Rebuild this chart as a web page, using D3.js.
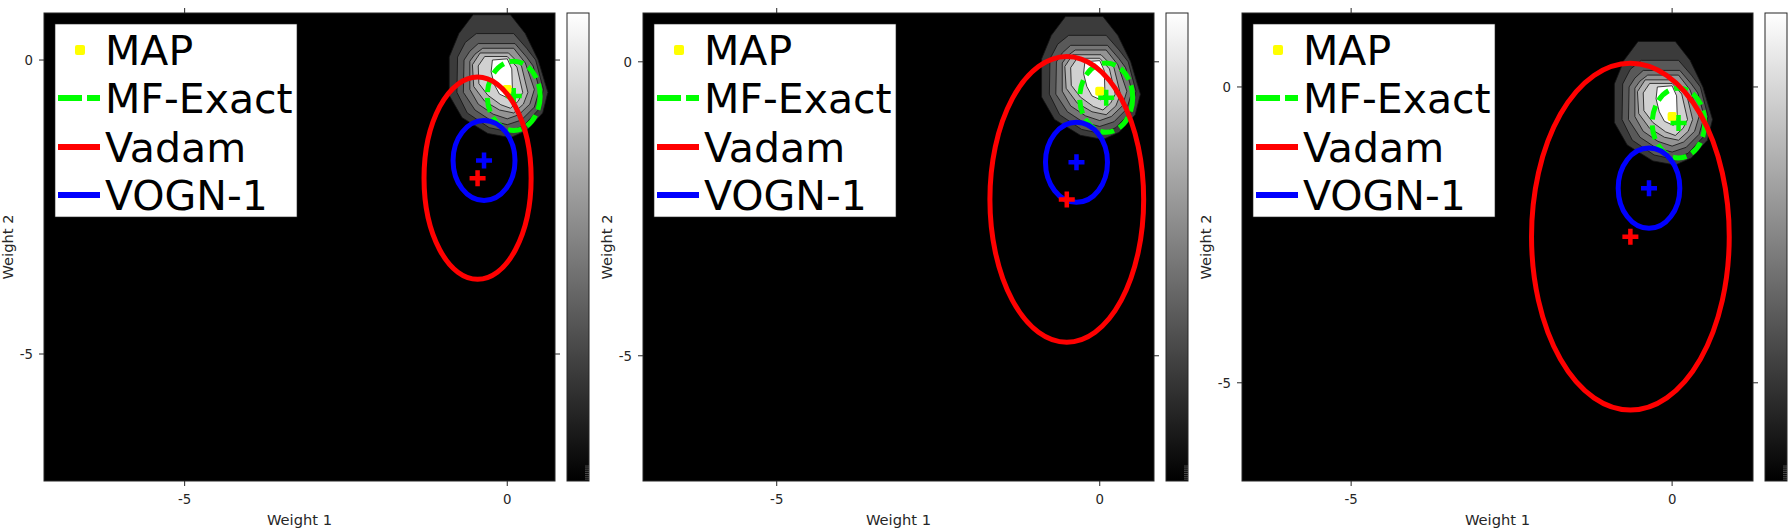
<!DOCTYPE html>
<html><head><meta charset="utf-8">
<script src="https://cdn.jsdelivr.net/npm/d3@7"></script>
<style>
body{margin:0;background:#fff;}
text{font-family:"DejaVu Sans",sans-serif;}
</style>
</head><body>
<svg id="chart" width="1789" height="531"></svg>
<script>
// ---------------- data ----------------
const xDomains = [[-7.18, 0.74], [-7.07, 0.84], [-6.70, 1.26]];
const yDomains = [[-7.16, 0.80], [-7.13, 0.83], [-6.66, 1.25]];
const xTicks = [-5, 0];
const yTicks = [-5, 0];
const xLabel = "Weight 1";
const yLabel = "Weight 2";
const legendLabels = ["MAP", "MF-Exact", "Vadam", "VOGN-1"];

const mapPoint = [0.0, -0.5];
const mfMean = [0.10, -0.61];
const mfSd = [0.41, 0.59];
const vognMean = [-0.36, -1.71];
const vognSd = [0.48, 0.68];
const vadamMeans = [[-0.46, -2.01], [-0.51, -2.34], [-0.65, -2.53]];
const vadamSds = [[0.83, 1.72], [1.19, 2.43], [1.54, 2.93]];

// filled contour bands of the posterior (outer -> inner), weight-space coordinates
const band1 = [[-0.53,0.77],[0.05,0.77],[0.28,0.45],[0.48,0.0],[0.63,-0.55],[0.55,-0.9],[0.3,-1.2],[0.05,-1.32],[-0.3,-1.25],[-0.7,-0.98],[-0.9,-0.6],[-0.9,0.05],[-0.75,0.45]];
const band2 = [[-0.48,0.45],[0.1,0.45],[0.3,0.2],[0.44,0.0],[0.56,-0.5],[0.48,-0.85],[0.25,-1.12],[0.02,-1.22],[-0.28,-1.15],[-0.62,-0.9],[-0.78,-0.55],[-0.77,0.05],[-0.65,0.3]];
const band3 = [[-0.45,0.28],[0.12,0.28],[0.3,0.05],[0.4,-0.1],[0.5,-0.5],[0.42,-0.8],[0.22,-1.02],[0.0,-1.1],[-0.25,-1.03],[-0.5,-0.85],[-0.68,-0.55],[-0.67,0.0],[-0.58,0.15]];
const band4 = [[-0.38,0.2],[0.1,0.2],[0.28,-0.05],[0.42,-0.5],[0.35,-0.75],[0.18,-0.93],[0.0,-1.0],[-0.22,-0.92],[-0.45,-0.75],[-0.58,-0.5],[-0.58,-0.02],[-0.5,0.1]];
const band5 = [[-0.42,0.12],[0.02,0.12],[0.22,-0.1],[0.32,-0.55],[0.25,-0.75],[0.1,-0.9],[-0.12,-0.85],[-0.35,-0.7],[-0.52,-0.45],[-0.54,-0.08]];
const band6 = [[-0.35,0.06],[0.0,0.06],[0.15,-0.12],[0.24,-0.55],[0.17,-0.7],[0.05,-0.82],[-0.1,-0.76],[-0.3,-0.6],[-0.44,-0.4],[-0.45,-0.1]];
const band7 = [[-0.23,0.0],[0.0,0.02],[0.07,-0.15],[0.08,-0.52],[0.02,-0.65],[-0.12,-0.58],[-0.2,-0.42],[-0.25,-0.2]];
const bandLevels = [0.23, 0.35, 0.46, 0.58, 0.70, 0.82, 1.0];
const colorbarTicks = [0.004, 0.008, 0.012, 0.016, 0.020, 0.024, 0.028, 0.032];

// ---------------- layout ----------------
const panelLefts = [44, 643, 1242];
const plotW = 511, plotTop = 13, plotH = 468;
const axisColor = "#262626";
const bands = [band1, band2, band3, band4, band5, band6, band7];

const svg = d3.select("#chart");
const defs = svg.append("defs");
const grad = defs.append("linearGradient").attr("id", "cbgrad")
  .attr("x1", 0).attr("y1", 1).attr("x2", 0).attr("y2", 0);
grad.append("stop").attr("offset", "0%").attr("stop-color", "#000");
grad.append("stop").attr("offset", "100%").attr("stop-color", "#fff");
const gray = d3.scaleLinear().domain([0, 1]).range(["#000", "#fff"]);

panelLefts.forEach((left, i) => {
  const x = d3.scaleLinear().domain(xDomains[i]).range([left, left + plotW]);
  const y = d3.scaleLinear().domain(yDomains[i]).range([plotTop + plotH, plotTop]);
  const g = svg.append("g");
  const clipId = "clip" + i;
  defs.append("clipPath").attr("id", clipId).append("rect")
    .attr("x", left).attr("y", plotTop).attr("width", plotW).attr("height", plotH);

  // background = lowest contour level
  g.append("rect").attr("x", left).attr("y", plotTop).attr("width", plotW).attr("height", plotH)
    .attr("fill", "#000");

  const plot = g.append("g").attr("clip-path", `url(#${clipId})`);
  const line = d3.line().x(d => x(d[0])).y(d => y(d[1])).curve(d3.curveLinearClosed);
  bands.forEach((b, k) => {
    plot.append("path").attr("d", line(b))
      .attr("fill", gray(bandLevels[k]))
      .attr("stroke", "#111").attr("stroke-width", 0.8);
  });

  // MAP
  plot.append("rect").attr("x", x(mapPoint[0]) - 4.5).attr("y", y(mapPoint[1]) - 4.5)
    .attr("width", 9).attr("height", 9).attr("rx", 2).attr("fill", "#ffff00");

  const ell = (m, s, color, dash) => {
    const e = plot.append("ellipse")
      .attr("cx", x(m[0])).attr("cy", y(m[1]))
      .attr("rx", x(m[0] + s[0]) - x(m[0]))
      .attr("ry", y(m[1] - s[1]) - y(m[1]))
      .attr("fill", "none").attr("stroke", color).attr("stroke-width", 5);
    if (dash) e.attr("stroke-dasharray", dash);
  };
  const plus = (m, color) => {
    plot.append("path").attr("d", "M-8,0H8M0,-8V8")
      .attr("transform", `translate(${x(m[0])},${y(m[1])})`)
      .attr("stroke", color).attr("stroke-width", 4.5).attr("fill", "none");
  };
  ell(mfMean, mfSd, "#00ff00", "14,6");
  plus(mfMean, "#00ff00");
  ell(vognMean, vognSd, "#0000ff");
  plus(vognMean, "#0000ff");
  ell(vadamMeans[i], vadamSds[i], "#ff0000");
  plus(vadamMeans[i], "#ff0000");

  // frame
  g.append("rect").attr("x", left).attr("y", plotTop).attr("width", plotW).attr("height", plotH)
    .attr("fill", "none").attr("stroke", axisColor).attr("stroke-width", 1);

  // ticks (outward, all four sides)
  xTicks.forEach(t => {
    g.append("line").attr("x1", x(t)).attr("x2", x(t)).attr("y1", plotTop + plotH).attr("y2", plotTop + plotH + 5)
      .attr("stroke", axisColor);
    g.append("line").attr("x1", x(t)).attr("x2", x(t)).attr("y1", plotTop).attr("y2", plotTop - 5)
      .attr("stroke", axisColor);
    g.append("text").attr("x", x(t)).attr("y", 504).attr("text-anchor", "middle")
      .attr("font-size", 13.3).attr("fill", axisColor).text(t);
  });
  yTicks.forEach(t => {
    g.append("line").attr("x1", left).attr("x2", left - 5).attr("y1", y(t)).attr("y2", y(t))
      .attr("stroke", axisColor);
    g.append("line").attr("x1", left + plotW).attr("x2", left + plotW + 5).attr("y1", y(t)).attr("y2", y(t))
      .attr("stroke", axisColor);
    g.append("text").attr("x", left - 11).attr("y", y(t)).attr("dy", "0.36em").attr("text-anchor", "end")
      .attr("font-size", 13.3).attr("fill", axisColor).text(t);
  });

  // axis labels
  g.append("text").attr("x", left + plotW / 2).attr("y", 525).attr("text-anchor", "middle")
    .attr("font-size", 14.7).attr("fill", axisColor).text(xLabel);
  g.append("text").attr("transform", `translate(${left - 31},${plotTop + plotH / 2}) rotate(-90)`)
    .attr("text-anchor", "middle").attr("font-size", 14.7).attr("fill", axisColor).text(yLabel);

  // colorbar
  const cbX = left + plotW + 12, cbW = 22;
  const cb = d3.scaleLinear().domain([0, 1]).range([plotTop + plotH, plotTop]);
  g.append("rect").attr("x", cbX).attr("y", plotTop).attr("width", cbW).attr("height", plotH)
    .attr("fill", "url(#cbgrad)").attr("stroke", axisColor).attr("stroke-width", 1);
  colorbarTicks.forEach(t => {
    g.append("line").attr("x1", cbX + cbW - 4).attr("x2", cbX + cbW).attr("y1", cb(t)).attr("y2", cb(t))
      .attr("stroke", "#777").attr("stroke-width", 0.6);
  });

  // legend
  const lx = left + 11, ly = 24, lw = 242, lh = 193;
  const lg = g.append("g");
  lg.append("rect").attr("x", lx).attr("y", ly).attr("width", lw).attr("height", lh)
    .attr("fill", "#fff").attr("stroke", axisColor).attr("stroke-width", 0.6);
  const rowY = [26, 74, 123, 171];
  legendLabels.forEach((lab, k) => {
    const cy = ly + rowY[k];
    if (k === 0) {
      lg.append("rect").attr("x", lx + 20).attr("y", cy - 5).attr("width", 10).attr("height", 10)
        .attr("rx", 2).attr("fill", "#ffff00");
    } else {
      const col = ["", "#00ff00", "#ff0000", "#0000ff"][k];
      const l = lg.append("line").attr("x1", lx + 3).attr("x2", lx + 45).attr("y1", cy).attr("y2", cy)
        .attr("stroke", col).attr("stroke-width", 6);
      if (k === 1) l.attr("stroke-dasharray", "24,5");
    }
    lg.append("text").attr("x", lx + 50).attr("y", cy + 15).attr("font-size", 41).attr("fill", "#000").text(lab);
  });
});
</script>
</body></html>
